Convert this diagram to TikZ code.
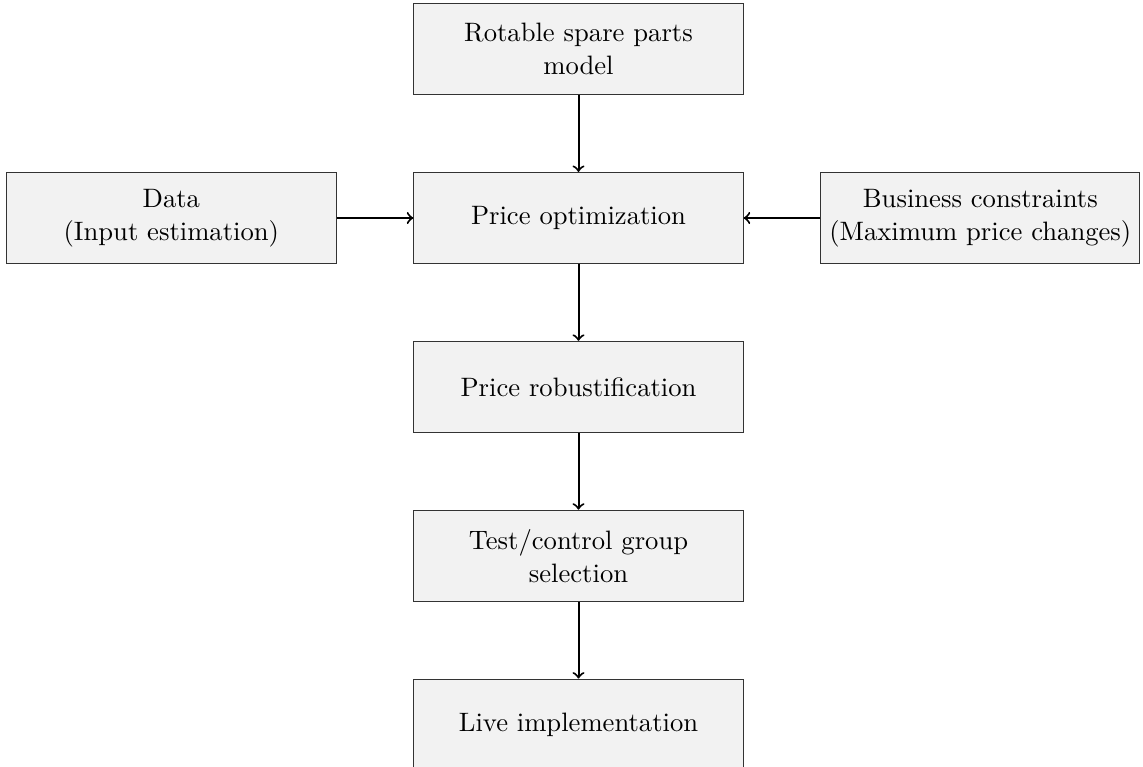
\documentclass[tikz,border=0pt]{standalone}
\usetikzlibrary{positioning}

\tikzset{
    stage/.style={draw=black!80, fill=gray!10, align=center,
        font=\fontsize{10.65pt}{13.2pt}\selectfont,
        minimum width=4.63cm, minimum height=1.28cm},
    flow/.style={->, thick}
}

\begin{document}
\begin{tikzpicture}[node distance=1.08cm]
    % Fixed frame
    \useasboundingbox (-231.4pt,-219.2pt) rectangle (225.8pt,87.2pt);

    % Main chain
    \node[stage] (opt) at (0,0) {Price optimization};
    \node[stage, above=of opt] (model) {Rotable spare parts\\model};
    \node[stage, below=of opt] (robust) {Price robustification};
    \node[stage, below=of robust] (test) {Test/control group\\selection};
    \node[stage, below=of test] (live) {Live implementation};

    % Side inputs
    \node[stage, left=of opt] (data) {Data\\(Input estimation)};
    \node[stage, right=of opt, minimum width=0pt] (business) {Business constraints\\(Maximum price changes)};

    % Arrows
    \draw[flow] (model) -- (opt);
    \draw[flow] (data) -- (opt);
    \draw[flow] (business) -- (opt);
    \draw[flow] (opt) -- (robust);
    \draw[flow] (robust) -- (test);
    \draw[flow] (test) -- (live);
\end{tikzpicture}
\end{document}
